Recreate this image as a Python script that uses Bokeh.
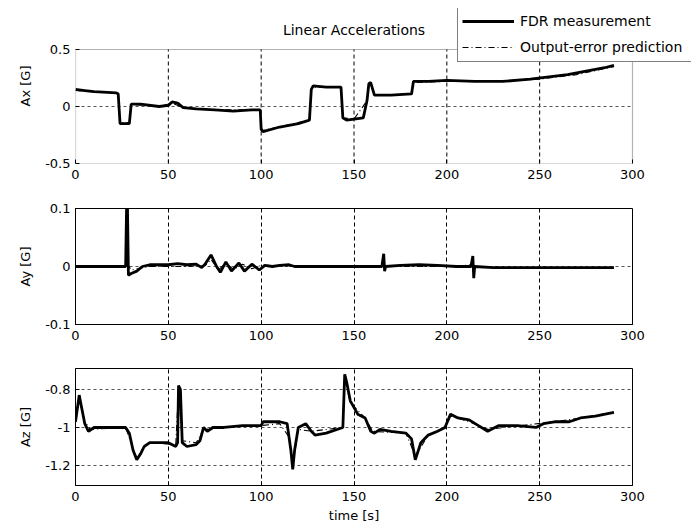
from bokeh.plotting import figure
from bokeh.layouts import column
from bokeh.models import Legend, LegendItem, FixedTicker, Range1d, Label, BoxAnnotation
from bokeh.embed import file_html
from bokeh.resources import INLINE

# ---------------- data ----------------
title_text = "Linear Accelerations"
x_label = "time [s]"
y_labels = ["Ax [G]", "Ay [G]", "Az [G]"]
series_names = ["FDR measurement", "Output-error prediction"]

x_ticks = [0, 50, 100, 150, 200, 250, 300]
x_tick_labels = ["0", "50", "100", "150", "200", "250", "300"]

ax_ticks = [-0.5, 0, 0.5]
ax_tick_labels = ["-0.5", "0", "0.5"]
ay_ticks = [-0.1, 0, 0.1]
ay_tick_labels = ["-0.1", "0", "0.1"]
az_ticks = [-1.2, -1.0, -0.8]
az_tick_labels = ["-1.2", "-1", "-0.8"]
az_limits = [-1.305, -0.69]

# Ax measurement
ax_t = [0, 5, 10, 22, 23, 24, 29, 30, 35, 45, 50, 52, 55, 58, 65, 75, 85, 95, 99.5,
        100, 101, 110, 120, 126, 127, 128, 135, 143, 144, 146, 150, 155, 157, 158,
        159, 161, 170, 181, 182, 190, 200, 215, 230, 245, 255, 265, 275, 285, 290]
ax_meas = [0.15, 0.14, 0.13, 0.12, 0.11, -0.15, -0.15, 0.02, 0.02, 0.0, 0.01, 0.04,
           0.03, -0.01, -0.02, -0.03, -0.04, -0.03, -0.03, -0.20, -0.22, -0.18,
           -0.15, -0.12, 0.15, 0.18, 0.17, 0.17, -0.10, -0.12, -0.11, -0.10, 0.05,
           0.20, 0.21, 0.10, 0.10, 0.11, 0.22, 0.22, 0.23, 0.22, 0.22, 0.24, 0.26,
           0.28, 0.31, 0.34, 0.36]
ax_pred_t = [0, 10, 22, 23, 24, 29, 30, 45, 52, 58, 75, 99.5, 100, 101, 126, 127,
             128, 143, 144, 150, 157, 158, 159, 161, 181, 182, 200, 230, 250, 270, 290]
ax_pred = [0.14, 0.13, 0.12, 0.11, -0.14, -0.14, 0.02, 0.0, 0.03, -0.01, -0.03,
           -0.03, -0.19, -0.21, -0.12, 0.15, 0.17, 0.17, -0.10, -0.11, 0.05, 0.19,
           0.20, 0.10, 0.11, 0.21, 0.22, 0.22, 0.24, 0.28, 0.35]

# Ay measurement
ay_t = [0, 20, 27, 27.5, 28, 28.5, 30, 33, 36, 40, 50, 55, 60, 65, 68, 70, 73, 76,
        78, 81, 84, 88, 91, 95, 99, 102, 106, 110, 115, 118, 165, 166, 166.5, 167,
        175, 185, 195, 205, 213, 214, 214.5, 215, 225, 250, 290]
ay_meas = [0.0, 0.0, 0.0, 0.1, 0.1, -0.015, -0.012, -0.008, 0.0, 0.003, 0.003,
           0.005, 0.003, 0.004, -0.002, 0.005, 0.02, 0.0, -0.01, 0.008, -0.008,
           0.006, -0.008, 0.004, -0.006, 0.002, 0.0, 0.002, 0.003, 0.0, 0.0, 0.022,
           -0.008, 0.0, 0.002, 0.003, 0.002, 0.0, 0.0, 0.018, -0.02, 0.0, -0.002,
           -0.002, -0.002]
ay_pred_t = [0, 20, 27, 28, 30, 35, 40, 50, 60, 70, 73, 77, 81, 85, 90, 95, 100,
             110, 120, 165, 166, 167, 200, 214, 215, 250, 290]
ay_pred = [0.0, 0.0, 0.001, 0.004, -0.006, -0.003, 0.0, 0.0, 0.0, 0.002, 0.012,
           -0.006, 0.006, -0.005, 0.004, -0.004, 0.002, 0.001, 0.0, 0.0, 0.004,
           0.0, 0.0, 0.003, 0.0, -0.003, -0.003]

# Az measurement
az_t = [0, 1, 2, 3, 5, 7, 10, 20, 27, 29, 31, 33, 35, 37, 40, 50, 54, 55, 55.5,
        56.5, 57.5, 60, 65, 67, 69, 71, 74, 80, 90, 100, 101, 110, 114, 116, 117,
        118, 120, 124, 127, 129, 135, 144, 145, 146, 148, 152, 156, 159, 161, 164,
        170, 178, 181, 183, 186, 190, 195, 199, 202, 206, 212, 217, 222, 228, 238,
        248, 252, 258, 266, 272, 280, 290]
az_meas = [-0.97, -0.90, -0.83, -0.88, -0.98, -1.02, -1.0, -1.0, -1.0, -1.03, -1.12,
           -1.17, -1.14, -1.10, -1.08, -1.08, -1.10, -1.08, -0.78, -0.80, -1.08,
           -1.10, -1.09, -1.07, -1.0, -1.02, -1.0, -1.0, -0.99, -0.99, -0.97, -0.97,
           -0.98, -1.12, -1.22, -1.12, -1.0, -0.98, -1.02, -1.04, -1.03, -1.0, -0.72,
           -0.76, -0.86, -0.93, -0.95, -1.02, -1.03, -1.01, -1.02, -1.03, -1.06,
           -1.17, -1.08, -1.04, -1.02, -1.0, -0.93, -0.95, -0.96, -0.99, -1.02,
           -0.99, -0.99, -1.0, -0.98, -0.97, -0.97, -0.95, -0.94, -0.92]
az_pred_t = [0, 2, 5, 8, 27, 31, 33, 37, 40, 54, 55.5, 57.5, 65, 69, 80, 100, 110,
             115, 117, 120, 127, 144, 145, 148, 156, 160, 178, 183, 190, 199, 202,
             212, 222, 240, 258, 272, 290]
az_pred = [-0.96, -0.85, -0.97, -1.01, -1.0, -1.11, -1.16, -1.10, -1.08, -1.09,
           -0.80, -1.07, -1.08, -1.01, -1.0, -0.99, -0.98, -1.05, -1.20, -1.01,
           -1.02, -1.0, -0.74, -0.87, -0.95, -1.02, -1.03, -1.15, -1.04, -1.0,
           -0.94, -0.97, -1.01, -0.99, -0.97, -0.95, -0.92]

# ---------------- styling / layout ----------------
FONT = "DejaVu Sans"
TICK_FS = "13px"
FW = 557          # data frame width
LEFT = 75
RIGHT = 59
H1 = 114          # Ax data area height
EXTRA_TOP = 41    # room above the Ax axes box for title and legend (shared canvas)


def style_axes(p, yt, ytl, ylab, show_xlabel=False):
    p.background_fill_color = "white"
    p.border_fill_color = "white"
    for ax in (p.xaxis[0], p.yaxis[0]):
        ax.axis_line_color = "black"
        ax.major_tick_line_color = "black"
        ax.major_tick_in = 4
        ax.major_tick_out = 0
        ax.minor_tick_line_color = None
        ax.major_label_text_font = FONT
        ax.major_label_text_font_size = TICK_FS
        ax.major_label_text_color = "black"
        ax.axis_label_text_font = FONT
        ax.axis_label_text_font_size = TICK_FS
        ax.axis_label_text_font_style = "normal"
        ax.axis_label_text_color = "black"
    p.xaxis.ticker = FixedTicker(ticks=x_ticks)
    p.xaxis.major_label_overrides = {t: l for t, l in zip(x_ticks, x_tick_labels)}
    p.xaxis.major_label_standoff = 6
    p.yaxis.ticker = FixedTicker(ticks=yt)
    p.yaxis.major_label_overrides = {t: l for t, l in zip(yt, ytl)}
    p.yaxis.major_label_standoff = 5
    p.yaxis.axis_label = ylab
    p.yaxis.axis_label_standoff = 9
    if show_xlabel:
        p.xaxis.axis_label = x_label
        p.xaxis.axis_label_standoff = 4


def set_grids(p, yt):
    p.xgrid.ticker = FixedTicker(ticks=x_ticks[1:-1])
    p.xgrid.grid_line_color = "black"
    p.xgrid.grid_line_dash = "4 3"
    p.xgrid.grid_line_width = 1
    p.ygrid.ticker = FixedTicker(ticks=yt)
    p.ygrid.grid_line_color = "#555555"
    p.ygrid.grid_line_dash = "3 3"
    p.ygrid.grid_line_width = 1


# --- top panel: its canvas frame also holds the title and legend area ---
x_end_ext = x_ticks[-1] * (FW + RIGHT) / FW
y_top_ext = ax_ticks[-1] + EXTRA_TOP / H1 * (ax_ticks[-1] - ax_ticks[0])
p1 = figure(output_backend="svg", toolbar_location=None,
            frame_width=FW + RIGHT, frame_height=H1 + EXTRA_TOP,
            min_border_left=LEFT, min_border_right=0,
            min_border_top=8, min_border_bottom=25,
            x_range=Range1d(x_ticks[0], x_end_ext),
            y_range=Range1d(ax_ticks[0], y_top_ext))
style_axes(p1, ax_ticks, ax_tick_labels, y_labels[0])
p1.outline_line_color = None
p1.xaxis.axis_line_color = None
p1.yaxis.axis_line_color = None
p1.xgrid.visible = False
p1.ygrid.visible = False
# grid lines limited to the axes box
gx = x_ticks[1:-1]
p1.segment(x0=gx, x1=gx, y0=[ax_ticks[0]] * len(gx), y1=[ax_ticks[-1]] * len(gx),
           line_color="black", line_dash="4 3", line_width=1)
gy = ax_ticks[1:-1]
p1.segment(x0=[x_ticks[0]] * len(gy), x1=[x_ticks[-1]] * len(gy), y0=gy, y1=gy,
           line_color="#555555", line_dash="3 3", line_width=1)

p2 = figure(output_backend="svg", toolbar_location=None,
            frame_width=FW, frame_height=116,
            min_border_left=LEFT, min_border_right=RIGHT,
            min_border_top=20, min_border_bottom=24,
            x_range=Range1d(x_ticks[0], x_ticks[-1]),
            y_range=Range1d(ay_ticks[0], ay_ticks[-1]))
style_axes(p2, ay_ticks, ay_tick_labels, y_labels[1])
set_grids(p2, ay_ticks)
p2.outline_line_color = "black"

p3 = figure(output_backend="svg", toolbar_location=None,
            frame_width=FW, frame_height=117,
            min_border_left=LEFT, min_border_right=RIGHT,
            min_border_top=20, min_border_bottom=36,
            x_range=Range1d(x_ticks[0], x_ticks[-1]),
            y_range=Range1d(*az_limits))
style_axes(p3, az_ticks, az_tick_labels, y_labels[2], show_xlabel=True)
set_grids(p3, az_ticks)
p3.outline_line_color = "black"

r_meas = []
r_pred = []
for p, t, m, tp, pr in ((p1, ax_t, ax_meas, ax_pred_t, ax_pred),
                        (p2, ay_t, ay_meas, ay_pred_t, ay_pred),
                        (p3, az_t, az_meas, az_pred_t, az_pred)):
    r_meas.append(p.line(t, m, line_color="black", line_width=2.8))
    r_pred.append(p.line(tp, pr, line_color="black", line_width=1.1,
                         line_dash="6 3 1 3"))

# axes box of the top panel
p1.add_layout(BoxAnnotation(left=x_ticks[0], right=x_ticks[-1],
                            bottom=ax_ticks[0], top=ax_ticks[-1],
                            fill_color=None, fill_alpha=0,
                            line_color="black", line_width=1.2))

# title (centred over the axes box)
p1.add_layout(Label(x=FW / 2, y=H1 + 20, x_units="screen", y_units="screen",
                    text=title_text, text_align="center", text_baseline="middle",
                    text_font=FONT, text_font_size="14px", text_color="black"))

legend = Legend(items=[LegendItem(label=series_names[0], renderers=[r_meas[0]]),
                       LegendItem(label=series_names[1], renderers=[r_pred[0]])],
                location=(382, H1 + EXTRA_TOP - 54), orientation="vertical")
legend.label_text_font = FONT
legend.label_text_font_size = "14px"
legend.label_text_color = "black"
legend.glyph_width = 52
legend.glyph_height = 20
legend.label_height = 20
legend.label_width = 190
legend.label_standoff = 6
legend.spacing = 6
legend.padding = 4
legend.margin = 0
legend.border_line_color = "black"
legend.border_line_width = 1
legend.background_fill_color = "white"
legend.background_fill_alpha = 1.0
p1.add_layout(legend)

layout = column(p1, p2, p3, spacing=0)
open("out.html", "w").write(file_html(layout, INLINE))
